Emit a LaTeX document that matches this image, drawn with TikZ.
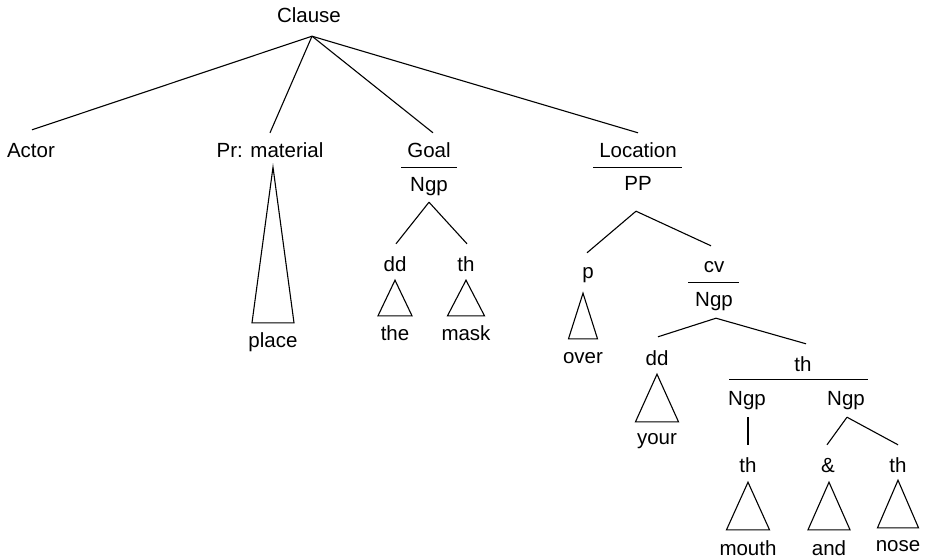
\documentclass[tikz,border=0pt]{standalone}
\usepackage{fontspec}
\setmainfont{Liberation Sans}
\usetikzlibrary{calc}
\tikzset{
  lbl/.style={font=\fontsize{20.5}{24}\selectfont, inner sep=0pt, text height=15pt, text depth=0pt, anchor=base},
  branch/.style={line width=1.1pt, line join=miter},
}
\begin{document}
\begin{tikzpicture}[x=1pt,y=-1pt]
\useasboundingbox (0,0) rectangle (927,559);
% labels
\node[lbl] (clause) at (309,23) {Clause};
\node[lbl] (actor) at (31,158) {Actor};
\node[lbl] (prm) at (270,158) {Pr: material};
\node[lbl] (goal) at (429,158) {Goal};
\node[lbl] (loc) at (638,158) {Location};
\node[lbl] (ngpA) at (429,192) {Ngp};
\node[lbl] (pp) at (638,191) {PP};
\node[lbl] (ddA) at (395,271) {dd};
\node[lbl] (thA) at (466,271) {th};
\node[lbl] (the) at (395,340) {the};
\node[lbl] (mask) at (466,340) {mask};
\node[lbl] (place) at (273,347) {place};
\node[lbl] (p) at (588,278) {p};
\node[lbl] (over) at (583,363) {over};
\node[lbl] (cv) at (714,272) {cv};
\node[lbl] (ngpB) at (714,306) {Ngp};
\node[lbl] (ddB) at (657,365) {dd};
\node[lbl] (thB) at (803,371) {th};
\node[lbl] (your) at (657,444) {your};
\node[lbl] (ngpC) at (747,405) {Ngp};
\node[lbl] (ngpD) at (846,405) {Ngp};
\node[lbl] (thC) at (748,472) {th};
\node[lbl] (amp) at (828,472) {\&};
\node[lbl] (thD) at (898,472) {th};
\node[lbl] (mouth) at (748,555) {mouth};
\node[lbl] (and) at (829,555) {and};
\node[lbl] (nose) at (898,551) {nose};

% Clause branches
\coordinate (cl) at ($(clause.south)+(3,13)$);
\draw[branch] (cl) -- ($(actor.north)+(1,-13)$);
\draw[branch] (cl) -- ($(prm.north)+(0,-10)$);
\draw[branch] (cl) -- ($(goal.north)+(4,-10)$);
\draw[branch] (cl) -- ($(loc.north)+(0,-10)$);

% underlines
\draw[branch] ($(goal.south)+(-28,9)$) -- ($(goal.south)+(28,9)$);
\draw[branch] ($(loc.south)+(-45,9)$) -- ($(loc.south)+(44,9)$);
\draw[branch] ($(cv.south)+(-26,10)$) -- ($(cv.south)+(25,10)$);
\draw[branch] ($(thB.south)+(-74,8)$) -- ($(thB.south)+(65,8)$);

% Pr: material triangle
\draw[branch] ($(prm.south)+(3,9)$) -- ($(place.north)+(-21,-9)$) -- ($(place.north)+(21,-9)$) -- cycle;

% Goal subtree
\coordinate (gA) at ($(ngpA.south)+(0,10)$);
\draw[branch] (gA) -- ($(ddA.north)+(1,-12)$);
\draw[branch] (gA) -- ($(thA.north)+(1,-12)$);
\draw[branch] ($(ddA.south)+(0,9)$) -- ($(the.north)+(-17,-9)$) -- ($(the.north)+(17,-9)$) -- cycle;
\draw[branch] ($(thA.south)+(0,9)$) -- ($(mask.north)+(-18.5,-9)$) -- ($(mask.north)+(18.5,-9)$) -- cycle;

% Location subtree
\coordinate (pA) at ($(pp.south)+(-2,20)$);
\draw[branch] (pA) -- ($(p.north)+(-1,-10)$);
\draw[branch] (pA) -- ($(cv.north)+(-3,-11)$);
\draw[branch] ($(p.south)+(-5,15)$) -- ($(over.north)+(-14.5,-9)$) -- ($(over.north)+(14.5,-9)$) -- cycle;

\coordinate (nB) at ($(ngpB.south)+(2,12)$);
\draw[branch] (nB) -- ($(ddB.north)+(1,-13)$);
\draw[branch] (nB) -- ($(thB.north)+(3,-12)$);
\draw[branch] ($(ddB.south)+(0,9)$) -- ($(your.north)+(-21.5,-7)$) -- ($(your.north)+(21.5,-7)$) -- cycle;

\draw[branch] ($(ngpC.south)+(1,12)$) -- ($(thC.north)+(0,-12)$);
\coordinate (nD) at ($(ngpD.south)+(1,12)$);
\draw[branch] (nD) -- ($(amp.north)+(-1,-12)$);
\draw[branch] (nD) -- ($(thD.north)+(0,-12)$);

\draw[branch] ($(thC.south)+(0,10)$) -- ($(mouth.north)+(-21.5,-10)$) -- ($(mouth.north)+(21.5,-10)$) -- cycle;
\draw[branch] ($(amp.south)+(1,10)$) -- ($(and.north)+(-21,-10)$) -- ($(and.north)+(21,-10)$) -- cycle;
\draw[branch] ($(thD.south)+(0,8)$) -- ($(nose.north)+(-20.5,-8)$) -- ($(nose.north)+(20.5,-8)$) -- cycle;
\end{tikzpicture}
\end{document}
